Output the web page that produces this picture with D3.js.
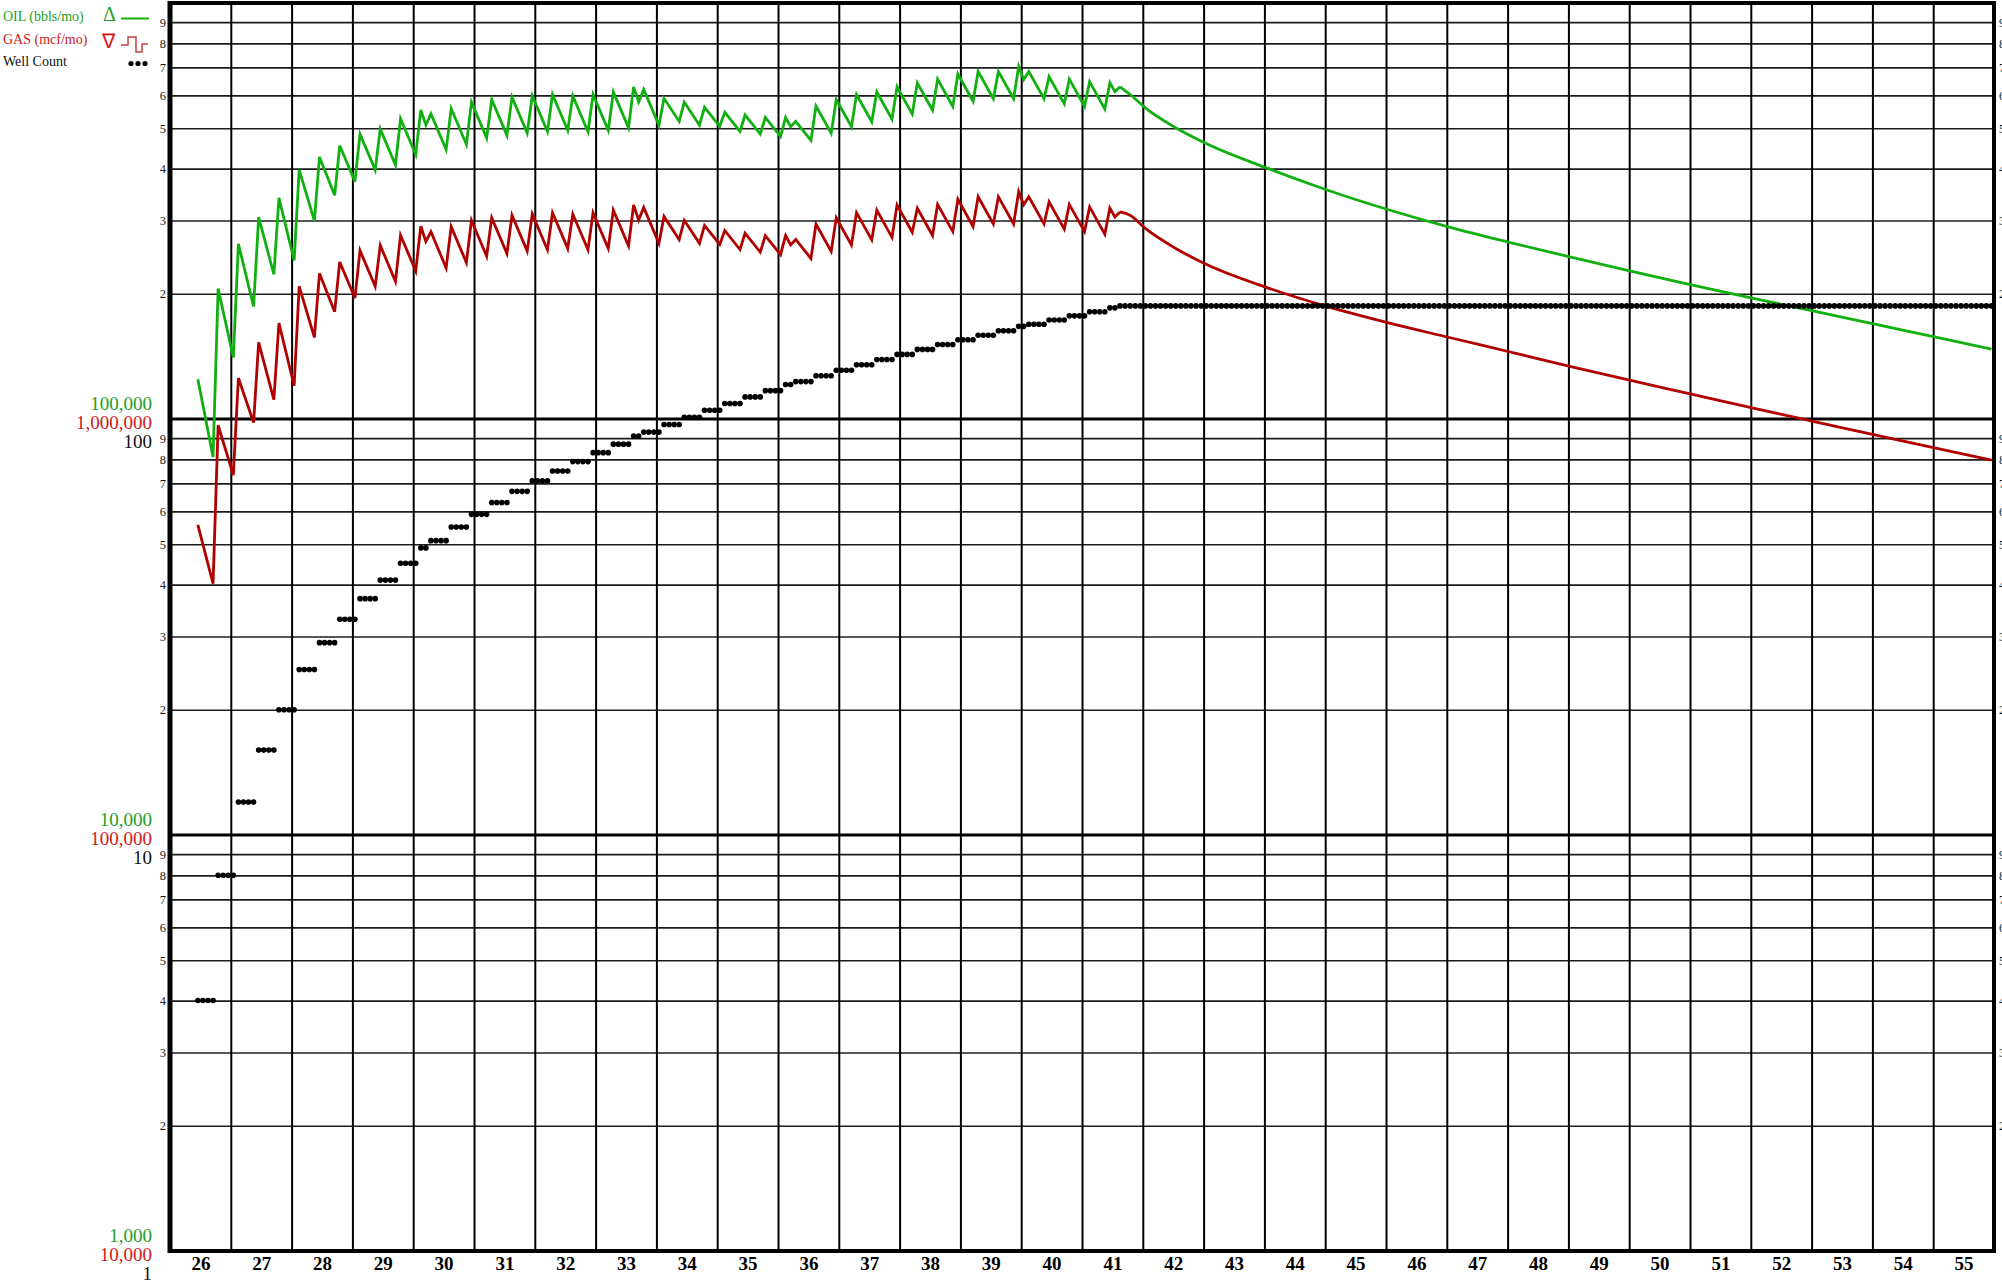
<!DOCTYPE html>
<html>
<head>
<meta charset="utf-8">
<script src="https://cdn.jsdelivr.net/npm/d3@7"></script>
<style>
  body { margin: 0; background: #fff; }
  svg text { font-family: "Liberation Serif", "Times New Roman", serif; }
</style>
</head>
<body>
<svg id="chart" width="2002" height="1282"></svg>
<script>
/* ---------------- DATA ---------------- */
// month index: 0 = Jan of year 26
const yearLabels = ["26","27","28","29","30","31","32","33","34","35","36","37","38","39","40",
                    "41","42","43","44","45","46","47","48","49","50","51","52","53","54","55"];
const minorDigits = ["2","3","4","5","6","7","8","9"];
const oilDecadeLabels  = ["1,000", "10,000", "100,000"];
const gasDecadeLabels  = ["10,000", "100,000", "1,000,000"];
const wellDecadeLabels = ["1", "10", "100"];

// drilling groups: month the group starts and well count
const groupStart = [5,9,13,17,21,25,29,33,37,41,45,49,51,55,59,63,67,71,75,79,83,87,91,93,97,101,105,109,113,117,121,123,
                    127,131,135,139,143,147,151,155,159,163,167,169,173,177,181,185,187];
const wellCount  = [4,8,12,16,20,25,29,33,37,41,45,49,51,55,59,63,67,71,75,79,83,87,91,93,97,101,105,109,113,117,121,123,
                    127,131,135,139,143,147,151,155,159,163,167,169,173,177,181,185,187];

// oil (bbls/mo) at group start and at last month of group
const oilPeak = [124600,205800,263600,305800,340000,397000,426300,454300,484000,498000,527000,553500,542000,557500,577600,586000,
                 594000,598400,602600,598000,602600,611000,628700,620000,590000,577600,561500,546000,538000,530700,530700,519500,
                 565500,586000,602600,611000,628700,642300,656000,675000,684500,684500,704000,684500,665300,656000,647000,643000,629000];
const oilLow  = [81000,140500,186400,222500,240400,299400,345000,372000,397000,408000,432000,509000,444000,457000,473600,480500,
                 487000,490700,494100,490400,494100,501000,578400,508400,519200,508300,505400,491400,484200,477600,504200,467600,
                 486300,504000,518200,525500,540700,552400,564200,580500,588700,588700,654700,588700,572200,564200,556400,612000,null];

// gas (mcf/mo)
const gasPeak = [556700,966000,1255000,1529000,1700000,2084300,2238100,2385100,2541000,2614500,2766800,2905900,2818400,2899000,3003500,3047200,
                 3088800,3111700,3133500,3109600,3133500,3177200,3269200,3224000,3068000,3003500,2919800,2839200,2797600,2759600,2759600,2701400,
                 2940600,3047200,3133500,3177200,3269200,3211500,3280000,3375000,3422500,3422500,3520000,3422500,3326500,3280000,3235000,3215000,3145000];
const gasLow  = [402000,733000,980000,1112500,1202000,1571900,1811300,1953000,2084300,2142000,2268000,2672300,2308800,2376400,2462700,2498600,
                 2532400,2551600,2569300,2550100,2569300,2605200,3007700,2643700,2699800,2643200,2627800,2555300,2517800,2483600,2621600,2431300,
                 2528800,2620800,2694600,2732600,2811600,2762000,2821000,2902500,2943500,2943500,3273500,2943500,2861000,2821000,2782000,3060000,null];

// forecast decline after last well
const declineMonth = [189,192,198,204,216,228,240,252,264,276,288,300,312,324,336,348,359];
const oilDecline   = [602600,559800,501200,459200,400900,354800,318400,289100,265500,244900,226500,209900,195000,181600,169000,157400,147200];
const gasDecline   = [3090000,2871000,2570000,2355000,2070000,1862000,1702000,1570000,1449000,1337000,1236000,1146000,1062000,986000,916000,851000,796000];

const lastMonth = 359;

/* ---------------- SETUP ---------------- */
const plotLeft = 170, plotRight = 1994, plotTop = 3, plotBottom = 1251;
const plotW = plotRight - plotLeft, plotH = plotBottom - plotTop;
const GREEN = "#10b010", RED = "#b00000", GREEN_TXT = "#22a022", RED_TXT = "#d01818";

const svg = d3.select("#chart");
svg.append("rect").attr("width", 2002).attr("height", 1282).attr("fill", "#fff");

const x = d3.scaleLinear().domain([0, 360]).range([plotLeft, plotRight]);
const yWell = d3.scaleLog().domain([1, 1000]).range([plotBottom, plotTop]);
const yOil = d3.scaleLog().domain([1e3, 1e6]).range([plotBottom, plotTop]);
const yGas = d3.scaleLog().domain([1e4, 1e7]).range([plotBottom, plotTop]);
const mx = m => x(m + 0.5);

// minor gridlines + left labels
const minorVals = [];
[1, 10, 100].forEach(d => minorDigits.forEach(k => minorVals.push(d * +k)));

const gLeft = svg.append("g").attr("transform", `translate(${plotLeft},0)`)
    .call(d3.axisLeft(yWell).tickValues(minorVals).tickSize(-plotW).tickPadding(4)
        .tickFormat((d, i) => minorDigits[i % 8]));
gLeft.select(".domain").remove();
gLeft.selectAll("line").attr("stroke", "#1c1c1c").attr("stroke-width", 1.7);
gLeft.selectAll("text").attr("font-size", 12.5).attr("fill", "#222").attr("font-family", "Liberation Serif");

// right labels (cut by the page edge, as in the source)
const gRight = svg.append("g").attr("transform", `translate(${plotRight},0)`)
    .call(d3.axisRight(yWell).tickValues(minorVals).tickSize(0).tickPadding(5)
        .tickFormat((d, i) => minorDigits[i % 8]));
gRight.select(".domain").remove();
gRight.selectAll("text").attr("font-size", 12.5).attr("fill", "#222").attr("font-family", "Liberation Serif");

// vertical gridlines
const gV = svg.append("g").attr("transform", `translate(0,${plotBottom})`)
    .call(d3.axisBottom(x).tickValues(d3.range(12, 360, 12)).tickSize(-plotH).tickFormat(""));
gV.select(".domain").remove();
gV.selectAll("line").attr("stroke", "#000").attr("stroke-width", 2);

// decade lines
svg.append("g").selectAll("line").data([10, 100]).join("line")
    .attr("x1", plotLeft).attr("x2", plotRight)
    .attr("y1", d => yWell(d)).attr("y2", d => yWell(d))
    .attr("stroke", "#000").attr("stroke-width", 3);

// year labels
const gX = svg.append("g").attr("transform", `translate(0,${plotBottom})`)
    .call(d3.axisBottom(x).tickValues(yearLabels.map((_, i) => 12 * i + 6)).tickSize(0).tickPadding(6)
        .tickFormat((d, i) => yearLabels[i]));
gX.select(".domain").remove();
gX.selectAll("text").attr("font-size", 19).attr("font-weight", "bold").attr("fill", "#000")
    .attr("font-family", "Liberation Serif");

// decade labels
const decades = [1, 10, 100];
const gD = svg.append("g").attr("font-size", 19).attr("text-anchor", "end");
decades.forEach((d, i) => {
  const yy = yWell(d);
  gD.append("text").attr("x", 152).attr("y", yy - 9.5).attr("fill", GREEN_TXT).text(oilDecadeLabels[i]);
  gD.append("text").attr("x", 152).attr("y", yy + 10).attr("fill", RED_TXT).text(gasDecadeLabels[i]);
  gD.append("text").attr("x", 152).attr("y", yy + 29).attr("fill", "#111").text(wellDecadeLabels[i]);
});

/* ---------------- SERIES ---------------- */
function buildSeries(peaks, lows, declVals) {
  const pts = [];
  groupStart.forEach((g, i) => {
    pts.push({ m: g, v: peaks[i] });
    const next = groupStart[i + 1];
    if (next !== undefined && next - 1 > g) pts.push({ m: next - 1, v: lows[i] });
  });
  declineMonth.forEach((m, i) => pts.push({ m: m, v: declVals[i] }));
  return pts;
}
const oilPts = buildSeries(oilPeak, oilLow, oilDecline);
const gasPts = buildSeries(gasPeak, gasLow, gasDecline);

const wellPts = [];
groupStart.forEach((g, i) => {
  const end = i + 1 < groupStart.length ? groupStart[i + 1] - 1 : lastMonth;
  for (let m = g; m <= end; m++) wellPts.push({ m: m, v: wellCount[i] });
});

// sawtooth part straight, decline part smooth
const splitIdx = oilPts.findIndex(p => p.m === groupStart[groupStart.length - 1]);
function drawSeries(pts, yS, color) {
  const saw = pts.slice(0, splitIdx + 1);
  const dec = pts.slice(splitIdx);
  svg.append("path").attr("d", d3.line().x(d => mx(d.m)).y(d => yS(d.v))(saw))
      .attr("fill", "none").attr("stroke", color).attr("stroke-width", 2.8).attr("stroke-linejoin", "miter");
  svg.append("path").attr("d", d3.line().x(d => mx(d.m)).y(d => yS(d.v)).curve(d3.curveMonotoneX)(dec))
      .attr("fill", "none").attr("stroke", color).attr("stroke-width", 2.8);
}
drawSeries(gasPts, yGas, RED);
drawSeries(oilPts, yOil, GREEN);

svg.append("g").selectAll("circle").data(wellPts).join("circle")
    .attr("cx", d => mx(d.m)).attr("cy", d => yWell(d.v)).attr("r", 2.8).attr("fill", "#000");

// border
svg.append("rect").attr("x", plotLeft).attr("y", plotTop).attr("width", plotW).attr("height", plotH)
    .attr("fill", "none").attr("stroke", "#000").attr("stroke-width", 4);
svg.append("line").attr("x1", plotLeft).attr("x2", plotLeft).attr("y1", plotTop - 2).attr("y2", plotBottom + 2)
    .attr("stroke", "#000").attr("stroke-width", 5);

/* ---------------- LEGEND ---------------- */
const lg = svg.append("g").attr("font-size", 14);
lg.append("text").attr("x", 3).attr("y", 21).attr("fill", GREEN_TXT).text("OIL (bbls/mo)");
lg.append("text").attr("x", 3).attr("y", 44).attr("fill", RED_TXT).text("GAS (mcf/mo)");
lg.append("text").attr("x", 3).attr("y", 66).attr("fill", "#111").text("Well Count");
lg.append("text").attr("x", 103).attr("y", 21).attr("font-size", 20).attr("fill", GREEN_TXT).text("\u0394");
lg.append("text").attr("x", 102).attr("y", 48).attr("font-size", 20).attr("fill", RED_TXT).text("\u2207");
lg.append("line").attr("x1", 121).attr("x2", 149).attr("y1", 18.5).attr("y2", 18.5)
    .attr("stroke", GREEN).attr("stroke-width", 2);
lg.append("path").attr("d", "M121,45H128V37H136V52H142V44H148")
    .attr("fill", "none").attr("stroke", "#c84040").attr("stroke-width", 1.5);
lg.selectAll("circle").data([0, 1, 2]).join("circle")
    .attr("cx", d => 131 + d * 7).attr("cy", 63.5).attr("r", 2.6).attr("fill", "#000");
</script>
</body>
</html>
